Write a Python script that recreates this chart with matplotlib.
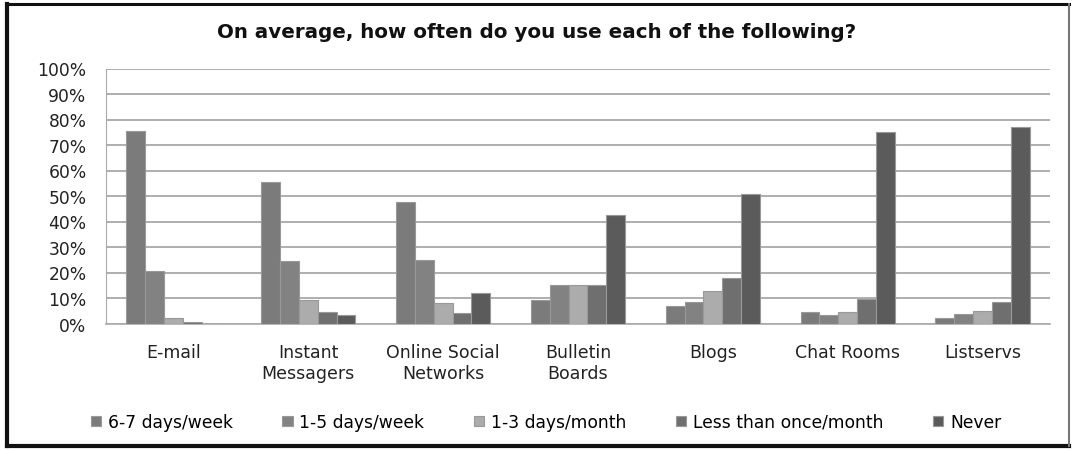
import numpy as np
import matplotlib.pyplot as plt
from matplotlib.lines import Line2D

categories = ['E-mail', 'Instant\nMessagers', 'Online Social\nNetworks', 'Bulletin\nBoards',
              'Blogs', 'Chat Rooms', 'Listservs']
series = ['6-7 days/week', '1-5 days/week', '1-3 days/month', 'Less than once/month', 'Never']
values = [
    [75.4, 55.3, 47.7, 9.3, 7.0, 4.4, 2.3],     # 6-7 days/week
    [20.6, 24.5, 24.8, 15.1, 8.5, 3.5, 3.9],    # 1-5 days/week
    [2.0, 9.3, 8.0, 15.1, 12.8, 4.4, 4.8],      # 1-3 days/month
    [0.4, 4.4, 4.2, 15.1, 17.8, 9.5, 8.5],      # Less than once/month
    [0.0, 3.5, 11.9, 42.7, 50.6, 75.0, 77.1],   # Never
]
colors = ['#7b7b7b', '#828282', '#acacac', '#6f6f6f', '#5b5b5b']

fig = plt.figure(figsize=(10.74, 4.52), dpi=100)
ax = fig.add_axes([106 / 1074, 1 - 324.5 / 452, (1050 - 106) / 1074, (324.5 - 69.5) / 452])

x = np.arange(len(categories))
w = 0.7 / len(series)
for i, (name, vals) in enumerate(zip(series, values)):
    ax.bar(x - 0.35 + w * (i + 0.5), vals, width=w, color=colors[i],
           edgecolor='#999999', linewidth=0.8, label=name, zorder=3)

ax.set_xlim(-0.5, len(categories) - 0.5)
ax.set_ylim(0, 100)
ax.set_yticks(np.arange(0, 101, 10))
ax.set_yticklabels([f'{v}%' for v in range(0, 101, 10)], fontsize=12.3, color='#222222')
ax.set_xticks(x)
ax.set_xticklabels(categories, fontsize=12.5, color='#222222', linespacing=1.2)
ax.tick_params(axis='y', length=0, pad=14)
ax.tick_params(axis='x', length=0, pad=14)
ax.yaxis.grid(True, color='#999999', linewidth=1.1, zorder=0)
for s in ['top', 'right']:
    ax.spines[s].set_visible(False)
ax.spines['left'].set_color('#aaaaaa')
ax.spines['bottom'].set_color('#aaaaaa')
ax.spines['bottom'].set_linewidth(1.2)

fig.text(537 / 1074, 1 - 33 / 452, 'On average, how often do you use each of the following?',
         ha='center', va='center', fontsize=14.3, fontweight='bold', color='#111111')

fig.legend(loc='center', bbox_to_anchor=(546 / 1074, 1 - 423 / 452), ncol=5, frameon=False,
           fontsize=12.3, handlelength=0.6, handleheight=0.6, handletextpad=0.4,
           columnspacing=2.9)

# outer frame: dark left/top/bottom, lighter right
fx = [7 / 1074, 1069 / 1074]
fy = [1 - 447 / 452, 1 - 5 / 452]
for xs, ys, c, lw in [([fx[0], fx[0]], fy, '#111111', 3.0),
                      (fx, [fy[1], fy[1]], '#111111', 2.2),
                      (fx, [fy[0], fy[0]], '#111111', 3.0),
                      ([fx[1], fx[1]], fy, '#777777', 1.5)]:
    fig.add_artist(Line2D(xs, ys, transform=fig.transFigure, color=c, linewidth=lw))

plt.savefig('out.png', dpi=100)
